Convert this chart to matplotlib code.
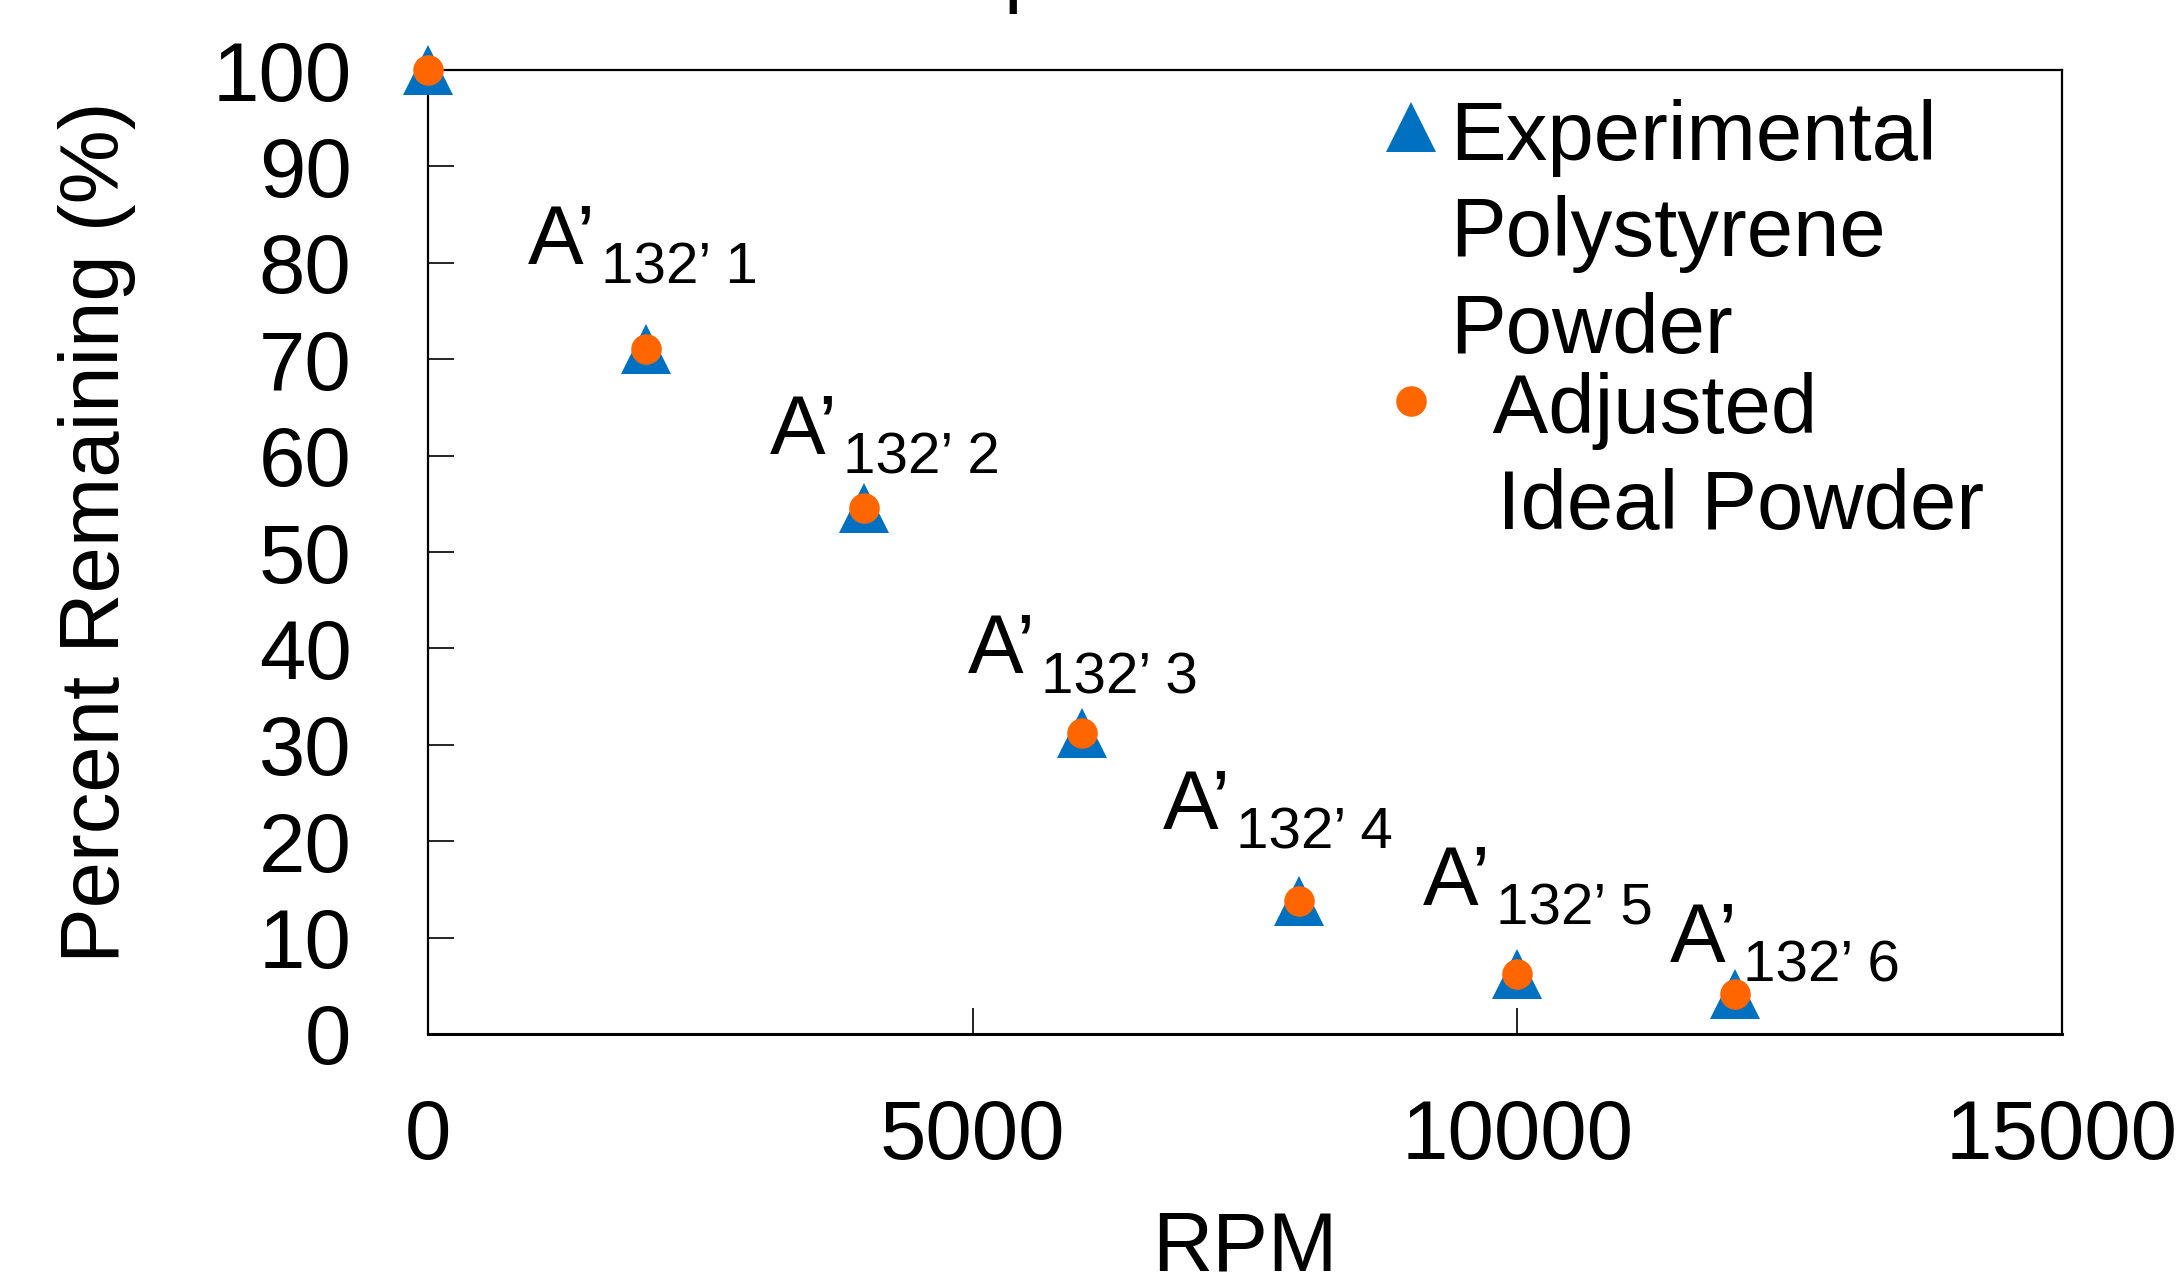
import matplotlib
matplotlib.use("Agg")
import matplotlib.pyplot as plt
from matplotlib.legend_handler import HandlerLine2D

plt.rcParams['font.family'] = ['Liberation Sans', 'DejaVu Sans']

# ---- data ----
rpm = [0, 2000, 4000, 6000, 8000, 10000, 12000]
experimental = [100, 71.1, 54.6, 31.2, 13.8, 6.2, 4.1]
adjusted = [100, 71.1, 54.6, 31.2, 13.8, 6.2, 4.1]
point_labels = ["1", "2", "3", "4", "5", "6"]
label_x = [917, 3140, 4957, 6747, 9134, 11402]
label_y = [79.9, 60.2, 37.4, 21.3, 13.4, 7.5]
xticks = [0, 5000, 10000, 15000]
yticks = [0, 10, 20, 30, 40, 50, 60, 70, 80, 90, 100]

BLUE = '#0070C0'
ORANGE = '#FF6600'
FS = 60
SUBFS = 42

fig = plt.figure(figsize=(21.77, 12.80), dpi=100)
ax = fig.add_axes([0.1966, 0.1922, 0.9472 - 0.1966, 0.9453 - 0.1922])

l1, = ax.plot(rpm, experimental, linestyle='none', marker='^', markersize=36,
              color=BLUE, markeredgewidth=0, clip_on=False, zorder=3)
l2, = ax.plot(rpm, adjusted, linestyle='none', marker='o', markersize=22,
              color=ORANGE, markeredgewidth=0, clip_on=False, zorder=4)

for lab, lx, ly in zip(point_labels, label_x, label_y):
    ax.text(lx, ly, "A\u2019", fontsize=FS, ha='left', va='baseline')
    ax.annotate("132\u2019 " + lab, xy=(lx, ly), xycoords='data',
                xytext=(73, -20), textcoords='offset pixels',
                fontsize=SUBFS, ha='left', va='baseline')

ax.set_xlim(0, 15000)
ax.set_ylim(0, 100)
ax.set_xticks(xticks)
ax.set_yticks(yticks)
ax.tick_params(axis='both', direction='in', length=19, width=1.2,
               labelsize=FS, top=False, right=False)
ax.tick_params(axis='x', pad=46)
ax.tick_params(axis='y', pad=55)
for s in ax.spines.values():
    s.set_linewidth(1.6)
ax.spines['bottom'].set_linewidth(2.2)

ax.set_xlabel("RPM", fontsize=FS, labelpad=24)
ax.set_ylabel("Percent Remaining (%)", fontsize=FS, labelpad=55)
ax.yaxis.label.set_y(0.52)


class ShiftHandler(HandlerLine2D):
    def __init__(self, shift, **kw):
        super().__init__(**kw)
        self.shift = shift

    def create_artists(self, legend, orig_handle, xdescent, ydescent,
                       width, height, fontsize, trans):
        arts = super().create_artists(legend, orig_handle, xdescent, ydescent,
                                      width, height, fontsize, trans)
        for a in arts:
            a.set_ydata([y + self.shift for y in a.get_ydata()])
        return arts


leg = ax.legend([l1, l2],
                ["Experimental\nPolystyrene\nPowder", "  Adjusted\n  Ideal Powder"],
                loc='upper left', bbox_to_anchor=(0.586, 0.97),
                frameon=False, fontsize=FS, handlelength=0.6,
                handletextpad=0.18, borderpad=0, borderaxespad=0,
                labelspacing=0.03,
                handler_map={l1: ShiftHandler(78, numpoints=1),
                             l2: ShiftHandler(43, numpoints=1)})
for t in leg.get_texts():
    t.set_linespacing(1.3)

fig.text(1004 / 2177, 1.0023, "p", fontsize=FS, ha='left', va='baseline')

fig.savefig("out.png", dpi=100)
